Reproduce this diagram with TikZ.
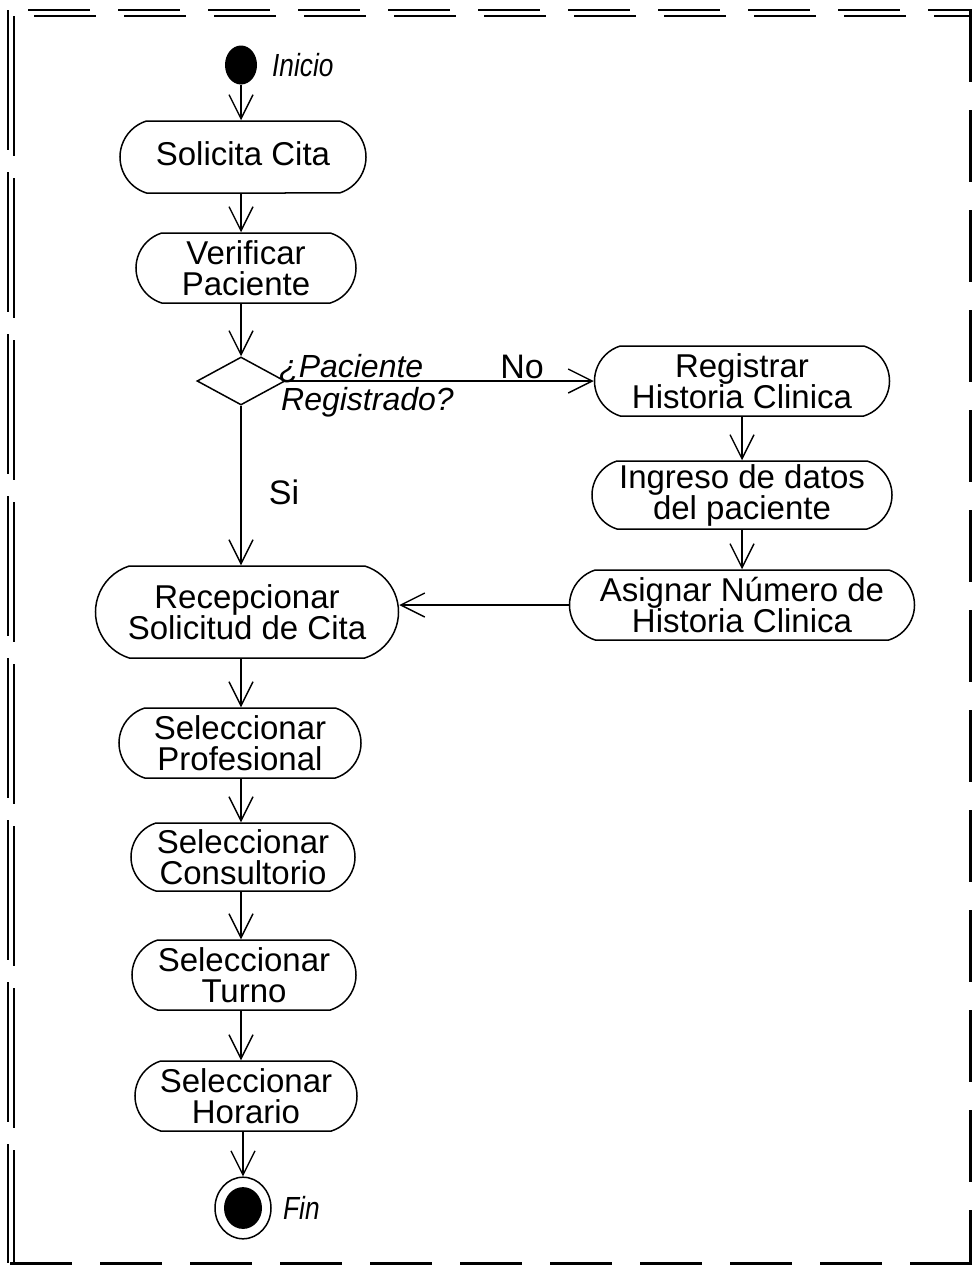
\documentclass[tikz,border=0pt]{standalone}
\usepackage{fontspec}
\setmainfont{Liberation Sans}
\usetikzlibrary{shapes.misc,shapes.geometric,arrows.meta}
\begin{document}
\begin{tikzpicture}[x=1pt,y=-1pt,
  act/.style={draw,line width=1.5pt,rounded rectangle,rounded rectangle arc length=145,
    align=center,inner sep=0pt,font=\fontsize{33}{31}\selectfont},
  flow/.style={line width=1.4pt,-{Straight Barb[length=24pt,width=24pt,line width=1.4pt]}},
  lbl/.style={font=\fontsize{34}{31}\selectfont,inner sep=0pt},
  ilbl/.style={font=\fontsize{32}{31}\selectfont\itshape,inner sep=0pt},
  dlbl/.style={font=\fontsize{32}{31}\selectfont\itshape,inner sep=0pt},
  bord/.style={line width=2.2pt}
]
\useasboundingbox (0,0) rectangle (974,1285);
% frame
\draw[bord,dash pattern=on 62pt off 28pt,dash phase=-20pt] (8,10) -- (972,10);
\draw[bord,dash pattern=on 62pt off 28pt,dash phase=-20pt] (14,16) -- (972,16);
\draw[bord,dash pattern=on 140pt off 22pt] (8,10) -- (8,1263);
\draw[bord,dash pattern=on 140pt off 22pt] (14,16) -- (14,1263);
\draw[line width=3pt,dash pattern=on 72pt off 28pt] (970,10) -- (970,1263);
\draw[line width=3pt,dash pattern=on 62pt off 28pt] (10,1263) -- (972,1263);

% nodes
\node[ellipse,fill=black,minimum width=32pt,minimum height=39pt,inner sep=0pt] (start) at (241,65) {};
\node[ilbl,anchor=west] (startl) at (272,65) {\scalebox{0.82}[1]{Inicio}};
\node[act,minimum width=246pt,minimum height=72pt] (solicita) at (243,157) {\raisebox{6pt}{Solicita Cita}};
\node[act,minimum width=220pt,minimum height=70pt] (verificar) at (246,268) {Verificar\\Paciente};
\node[diamond,draw,line width=1.5pt,aspect=1.9,minimum width=88pt,minimum height=48pt,inner sep=0pt] (dec) at (241,381) {};
\node[dlbl,anchor=base west] (decl1) at (279,377) {¿Paciente};
\node[dlbl,anchor=base west] (decl2) at (281,410) {Registrado?};
\node[act,minimum width=295pt,minimum height=70pt] (registrar) at (742,381) {Registrar\\Historia Clinica};
\node[act,minimum width=300pt,minimum height=68pt] (ingreso) at (742,495) {Ingreso de datos\\del paciente};
\node[act,minimum width=345pt,minimum height=70pt] (asignar) at (742,605) {Asignar Número de\\Historia Clinica};
\node[act,minimum width=303pt,minimum height=92pt] (recep) at (247,612) {Recepcionar\\Solicitud de Cita};
\node[act,minimum width=242pt,minimum height=70pt] (prof) at (240,743) {Seleccionar\\Profesional};
\node[act,minimum width=224pt,minimum height=68pt] (cons) at (243,857) {Seleccionar\\Consultorio};
\node[act,minimum width=224pt,minimum height=70pt] (turno) at (244,975) {Seleccionar\\Turno};
\node[act,minimum width=222pt,minimum height=70pt] (hor) at (246,1096) {Seleccionar\\Horario};
\node[circle,draw,line width=1.5pt,minimum width=56pt,inner sep=0pt,yscale=1.1] (fin) at (243,1208) {};
\node[circle,fill=black,minimum width=38pt,inner sep=0pt,yscale=1.1] (finin) at (243,1208) {};
\node[ilbl,anchor=west] (finl) at (283,1208) {\scalebox{0.82}[1]{Fin}};
\node[lbl] (nol) at (522,367) {No};
\node[lbl] (sil) at (284,492) {Si};

% connectors
\draw[flow] (start.south) -- (start.south |- solicita.north);
\draw[flow] (solicita.south -| start) -- (start |- verificar.north);
\draw[flow] (verificar.south -| dec.north) -- (dec.north);
\draw[flow] (dec.east) -- (registrar.west |- dec.east);
\draw[flow] (dec.south) -- (dec.south |- recep.north);
\draw[flow] (registrar.south) -- (ingreso.north);
\draw[flow] (ingreso.south) -- (asignar.north);
\draw[flow] (asignar.west) -- (recep.east |- asignar.west);
\draw[flow] (recep.south -| dec.south) -- (dec.south |- prof.north);
\draw[flow] (prof.south -| dec.south) -- (dec.south |- cons.north);
\draw[flow] (cons.south -| dec.south) -- (dec.south |- turno.north);
\draw[flow] (turno.south -| dec.south) -- (dec.south |- hor.north);
\draw[flow] (hor.south -| fin.north) -- (fin.north);
\end{tikzpicture}
\end{document}
